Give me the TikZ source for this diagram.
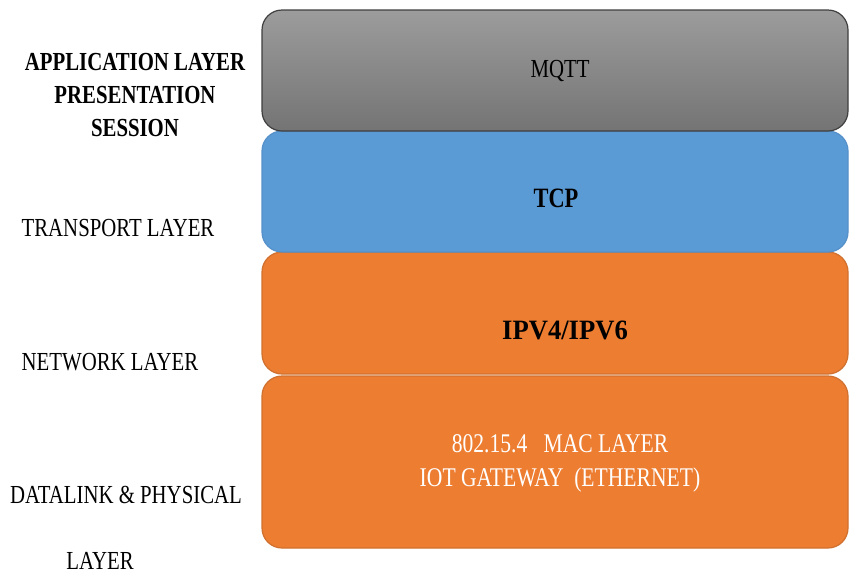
\documentclass[tikz,border=0pt]{standalone}
\usepackage{fontspec}
\setmainfont[FakeStretch=0.8]{Liberation Serif}
\newfontfamily\widefont[FakeStretch=0.95]{Liberation Serif}
\usetikzlibrary{shadings}
\definecolor{graytop}{HTML}{9C9C9C}
\definecolor{graybot}{HTML}{747474}
\definecolor{grayedge}{HTML}{3F3F3F}
\definecolor{tcpblue}{HTML}{5B9BD5}
\definecolor{tcpedge}{HTML}{5690C8}
\definecolor{netorange}{HTML}{ED7D31}
\definecolor{orangeedge}{HTML}{D0702E}
\begin{document}
\begin{tikzpicture}[x=1pt,y=-1pt,
  layerbox/.style={rounded corners=20pt,line width=1.2pt},
  lbl/.style={font=\fontsize{26}{33}\selectfont,inner sep=0pt,align=center},
  boldlbl/.style={lbl,font=\fontsize{26}{33}\selectfont\bfseries},
  bigbold/.style={lbl,font=\fontsize{28}{33}\selectfont\bfseries}]
\useasboundingbox (0,0) rectangle (850,574);
% protocol stack, bottom to top so upper boxes overlap lower ones
\draw[layerbox,fill=netorange,draw=orangeedge] (262,376) rectangle (848,548);
\draw[layerbox,fill=netorange,draw=orangeedge] (262,252) rectangle (848,374);
\draw[layerbox,fill=tcpblue,draw=tcpedge] (262,131) rectangle (848,252);
\draw[layerbox,top color=graytop,bottom color=graybot,draw=grayedge] (262,10) rectangle (848,131);
% box texts
\node[lbl] (mqtt) at (560,71) {MQTT};
\node[bigbold] (tcp) at (556,198) {TCP};
\node[bigbold,font=\fontsize{28}{33}\selectfont\widefont\bfseries] (ip) at (565,330) {IPV4/IPV6};
\node[lbl,font=\fontsize{27}{34}\selectfont,text=white] (mac) at (560,463) {802.15.4\ \ \ MAC LAYER\\IOT GATEWAY\ \ (ETHERNET)};
% OSI layer names
\node[boldlbl] (app) at (135,95) {APPLICATION LAYER\\PRESENTATION\\SESSION};
\node[lbl] (transport) at (118,228) {TRANSPORT LAYER};
\node[lbl] (network) at (110,362) {NETWORK LAYER};
\node[lbl] (datalink) at (126,495) {DATALINK \& PHYSICAL};
\node[lbl] (phys) at (100,561) {LAYER};
\end{tikzpicture}
\end{document}
